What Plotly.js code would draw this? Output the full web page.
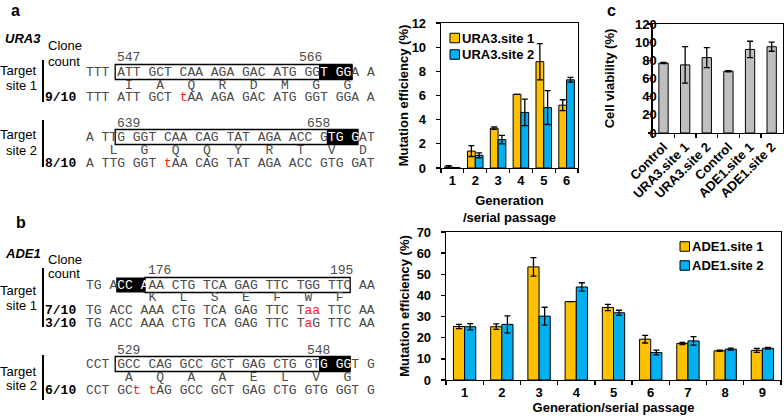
<!DOCTYPE html>
<html><head><meta charset="utf-8">
<script src="https://cdn.plot.ly/plotly-3.0.1.min.js"></script>
<style>html,body{margin:0;padding:0;background:#fff;} #chart{width:784px;height:419px;}</style>
</head><body><div id="chart"></div>
<script>
// ---------- data: URA3 mutation efficiency (%) ----------
const genURA = ['1', '2', '3', '4', '5', '6'];
const ura3Site1 = [0.1, 1.4, 3.3, 6.1, 8.8, 5.2];
const ura3Site1Err = [0.1, 0.45, 0.1, 0, 1.5, 0.45];
const ura3Site2 = [0.03, 1.05, 2.35, 4.6, 5.0, 7.3];
const ura3Site2Err = [0, 0.2, 0.35, 1.1, 1.4, 0.2];
// ---------- data: ADE1 mutation efficiency (%) ----------
const genADE = ['1', '2', '3', '4', '5', '6', '7', '8', '9'];
const ade1Site1 = [25.3, 25.2, 53.5, 37.1, 34.3, 19.3, 17.3, 13.8, 14.0];
const ade1Site1Err = [1.0, 1.3, 4.4, 0, 1.5, 1.8, 0.5, 0.3, 0.9];
const ade1Site2 = [25.2, 26.3, 30.2, 44.0, 31.8, 13.0, 18.5, 14.6, 15.0];
const ade1Site2Err = [1.5, 4.0, 4.2, 2.0, 1.2, 1.1, 2.0, 0.5, 0.4];
// ---------- data: cell viability (%) ----------
const viabLabels = ['Control', 'URA3.site 1', 'URA3.site 2', 'Control', 'ADE1.site 1', 'ADE1.site 2'];
const viabValues = [77, 75, 83, 68, 92, 95];
const viabErr = [0.6, 20, 11, 0.6, 9, 5];
// ---------- sequence texts (lowercase = mutated base) ----------
const ura3S1Ref = 'TTT ATT GCT CAA AGA GAC ATG GGT GGA A';
const ura3S1AA  = '     I   A   Q   R   D   M   G   G';
const ura3S1Mut = ['TTT ATT GCT tAA AGA GAC ATG GGT GGA A'];
const ura3S1Cnt = ['9/10'];
const ura3S1Pos = ['547', '566'];
const ura3S2Ref = 'A TTG GGT CAA CAG TAT AGA ACC GTG GAT';
const ura3S2AA  = '   L   G   Q   Q   Y   R   T   V   D';
const ura3S2Mut = ['A TTG GGT tAA CAG TAT AGA ACC GTG GAT'];
const ura3S2Cnt = ['8/10'];
const ura3S2Pos = ['639', '658'];
const ade1S1Ref = 'TG ACC AAA CTG TCA GAG TTC TGG TTC AA';
const ade1S1AA  = '        K   L   S   E   F   W   F';
const ade1S1Mut = ['TG ACC AAA CTG TCA GAG TTC Taa TTC AA', 'TG ACC AAA CTG TCA GAG TTC TaG TTC AA'];
const ade1S1Cnt = ['7/10', '3/10'];
const ade1S1Pos = ['176', '195'];
const ade1S2Ref = 'CCT GCC CAG GCC GCT GAG CTG GTG GGT G';
const ade1S2AA  = '     A   Q   A   A   E   L   V   G';
const ade1S2Mut = ['CCT GCt tAG GCC GCT GAG CTG GTG GGT G'];
const ade1S2Cnt = ['6/10'];
const ade1S2Pos = ['529', '548'];

// ---------- helpers ----------
const W = 784, H = 419;
const px = x => x / W;
const py = y => 1 - y / H;
const SANS = 'Arial, Liberation Sans, sans-serif';
const MONO = 'Liberation Mono, Courier New, monospace';
const GRAY = '#4a4a4a';
const RED = '#FF1A1A';
const CW = 7.8, X0 = 85;
const cx = i => X0 + CW * i;
const annotations = [];
const shapes = [];
function txt(x, y, text, o) {
  annotations.push(Object.assign({
    xref: 'paper', yref: 'paper', x: px(x), y: py(y), text: text, showarrow: false,
    xanchor: 'left', yanchor: 'middle', borderpad: 0,
    font: {family: SANS, size: 13, color: '#000'}
  }, o || {}));
}
function seqHTML(s, hi) {
  let out = '';
  for (let i = 0; i < s.length; i++) {
    let c = s[i];
    let col = null;
    if (c >= 'a' && c <= 'z') col = RED;
    else if (hi && i >= hi[0] && i < hi[1]) col = '#FFFFFF';
    const ch = c === ' ' ? '\u00A0' : c;
    out += col ? '<span style="color:' + col + '">' + ch + '</span>' : ch;
  }
  return out;
}
function rect(x0, x1, y0, y1, fill, lw) {
  shapes.push({type: 'rect', xref: 'paper', yref: 'paper', x0: px(x0), x1: px(x1), y0: py(y1), y1: py(y0),
    line: {color: '#000', width: lw === undefined ? (fill === null ? 1.3 : 0) : lw},
    fillcolor: fill === null ? 'rgba(0,0,0,0)' : fill, layer: 'above'});
}
function vline(x, y0, y1) {
  shapes.push({type: 'line', xref: 'paper', yref: 'paper', x0: px(x), x1: px(x), y0: py(y0), y1: py(y1),
    line: {color: '#000', width: 2}});
}
function site(cfg) {
  cfg.pos.forEach((p, k) => txt(cfg.posX[k], cfg.yPos, p, {font: {family: MONO, size: 13, color: GRAY}}));
  rect(cx(cfg.black[0]), cx(cfg.black[1]), cfg.yRef - 7.5, cfg.yRef + 7.5, '#000');
  rect(cfg.box[0], cfg.box[1], cfg.yRef - 7.5, cfg.yRef + 7.5, null);
  txt(X0, cfg.yRef, seqHTML(cfg.ref, cfg.white), {font: {family: MONO, size: 13, color: GRAY}});
  txt(X0, cfg.yAA, seqHTML(cfg.aa, null), {font: {family: MONO, size: 13, color: GRAY}});
  cfg.mut.forEach((m, k) => {
    txt(44, cfg.yMut[k], '<b>' + cfg.cnt[k] + '</b>', {font: {family: MONO, size: 13, color: '#000'}});
    txt(X0, cfg.yMut[k], seqHTML(m, null), {font: {family: MONO, size: 13, color: GRAY}});
  });
  txt(38, cfg.tY[0], 'Target', {xanchor: 'right'});
  txt(38, cfg.tY[1], cfg.label, {xanchor: 'right'});
  vline(43, cfg.bar[0], cfg.bar[1]);
}

// ---------- left panels ----------
txt(10, 10, '<b>a</b>', {font: {family: SANS, size: 16, color: '#000'}});
txt(4, 38, '<b><i>URA3</i></b>');
txt(47, 45, 'Clone'); txt(47, 62, 'count');
site({ref: ura3S1Ref, aa: ura3S1AA, mut: ura3S1Mut, cnt: ura3S1Cnt, pos: ura3S1Pos, posX: [cx(4), 298],
  yPos: 57, yRef: 72, yAA: 85, yMut: [98], box: [cx(4) - 1, 352], black: [30, 34.3], white: [30, 34],
  bar: [60, 102], tY: [70, 85], label: 'site 1'});
site({ref: ura3S2Ref, aa: ura3S2AA, mut: ura3S2Mut, cnt: ura3S2Cnt, pos: ura3S2Pos, posX: [cx(4), 306],
  yPos: 123, yRef: 137, yAA: 150, yMut: [163], box: [cx(4) - 1, cx(35)], black: [31, 35], white: [31, 35],
  bar: [120, 167], tY: [135, 150], label: 'site 2'});

txt(15, 222, '<b>b</b>', {font: {family: SANS, size: 16, color: '#000'}});
txt(4, 253, '<b><i>ADE1</i></b>');
txt(47, 259, 'Clone'); txt(47, 273, 'count');
site({ref: ade1S1Ref, aa: ade1S1AA, mut: ade1S1Mut, cnt: ade1S1Cnt, pos: ade1S1Pos, posX: [cx(8), 329],
  yPos: 270, yRef: 285, yAA: 297, yMut: [310, 323], box: [cx(7.7), cx(34)], black: [4, 7.7], white: [4, 8],
  bar: [268, 327], tY: [290, 305], label: 'site 1'});
site({ref: ade1S2Ref, aa: ade1S2AA, mut: ade1S2Mut, cnt: ade1S2Cnt, pos: ade1S2Pos, posX: [cx(4), 306],
  yPos: 350, yRef: 364, yAA: 377, yMut: [390], box: [cx(4) - 1, cx(34)], black: [30, 34], white: [30, 34],
  bar: [355, 400], tY: [371, 385], label: 'site 2'});

txt(606, 10, '<b>c</b>', {font: {family: SANS, size: 16, color: '#000'}});

// ---------- traces ----------
const YEL = '#FFC000', BLU = '#00B0F0', GRY = '#BFBFBF';
const errStyle = (arr) => ({type: 'data', array: arr, visible: true, color: '#000', thickness: 1.3, width: 3});
const barLine = {color: '#000', width: 1};
const traces = [
  {type: 'bar', x: genURA, y: ura3Site1, name: 'URA3.site 1', marker: {color: YEL, line: barLine},
   error_y: errStyle(ura3Site1Err), xaxis: 'x', yaxis: 'y', offset: -0.34, width: 0.34, showlegend: false},
  {type: 'bar', x: genURA, y: ura3Site2, name: 'URA3.site 2', marker: {color: BLU, line: barLine},
   error_y: errStyle(ura3Site2Err), xaxis: 'x', yaxis: 'y', offset: 0, width: 0.34, showlegend: false},
  {type: 'bar', x: genADE, y: ade1Site1, name: 'ADE1.site 1', marker: {color: YEL, line: barLine},
   error_y: errStyle(ade1Site1Err), xaxis: 'x2', yaxis: 'y2', offset: -0.3, width: 0.3, showlegend: false},
  {type: 'bar', x: genADE, y: ade1Site2, name: 'ADE1.site 2', marker: {color: BLU, line: barLine},
   error_y: errStyle(ade1Site2Err), xaxis: 'x2', yaxis: 'y2', offset: 0, width: 0.3, showlegend: false},
  {type: 'bar', x: viabLabels.map((l, i) => i + '_' + l), y: viabValues, name: 'Cell viability',
   marker: {color: GRY, line: barLine}, error_y: errStyle(viabErr), xaxis: 'x3', yaxis: 'y3',
   width: 0.43, showlegend: false}
];

// legends (keys built from the trace names and colours)
function legendKey(xSq, ySq, trace) {
  rect(xSq, xSq + 9.5, ySq - 4.75, ySq + 4.75, trace.marker.color, 1);
  txt(xSq + 10.5, ySq, '<b>' + trace.name + '</b>');
}
legendKey(450, 38, traces[0]);
legendKey(450, 54.5, traces[1]);
legendKey(680, 246.5, traces[2]);
legendKey(680, 265.5, traces[3]);

const bold13 = {family: SANS, size: 13, color: '#000', weight: 'bold'};
const axBase = {showline: true, linecolor: '#000', linewidth: 1.3, mirror: true, ticks: 'outside',
  ticklen: 4, tickwidth: 1.3, tickcolor: '#000', showgrid: false, zeroline: false, tickfont: bold13, fixedrange: true};
const xCat = Object.assign({}, axBase, {type: 'category', tickson: 'boundaries'});

const layout = {
  width: W, height: H, margin: {l: 0, r: 0, t: 0, b: 0},
  paper_bgcolor: '#fff', plot_bgcolor: 'rgba(0,0,0,0)',
  font: {family: SANS, size: 13, color: '#000'},
  barmode: 'overlay', showlegend: false,
  xaxis: Object.assign({}, xCat, {domain: [px(441), px(578)], anchor: 'y',
    title: {text: 'Generation<br>/serial passage', font: bold13, standoff: 9}}),
  yaxis: Object.assign({}, axBase, {domain: [py(168), py(23)], anchor: 'x', range: [0, 12], dtick: 2,
    ticklabelstandoff: 7, title: {text: 'Mutation efficiency (%)', font: bold13, standoff: 0}}),
  xaxis2: Object.assign({}, xCat, {domain: [px(446), px(781)], anchor: 'y2',
    title: {text: 'Generation/serial passage', font: bold13, standoff: 4}}),
  yaxis2: Object.assign({}, axBase, {domain: [py(380), py(232)], anchor: 'x2', range: [0, 70], dtick: 10,
    ticklabelstandoff: 7, title: {text: 'Mutation efficiency (%)', font: bold13, standoff: 4}}),
  xaxis3: Object.assign({}, xCat, {domain: [px(652.7), px(782.5)], anchor: 'y3', tickangle: -45,
    tickmode: 'array', tickvals: viabLabels.map((l, i) => i + '_' + l), ticktext: viabLabels}),
  yaxis3: Object.assign({}, axBase, {domain: [py(133), py(24)], anchor: 'x3', range: [0, 120], dtick: 20,
    ticklen: 3, ticklabelstandoff: -11, title: {text: 'Cell viability (%)', font: bold13, standoff: 17}}),
  annotations: annotations,
  shapes: shapes
};
Plotly.newPlot('chart', traces, layout, {displayModeBar: false, staticPlot: true});
</script>
</body></html>
